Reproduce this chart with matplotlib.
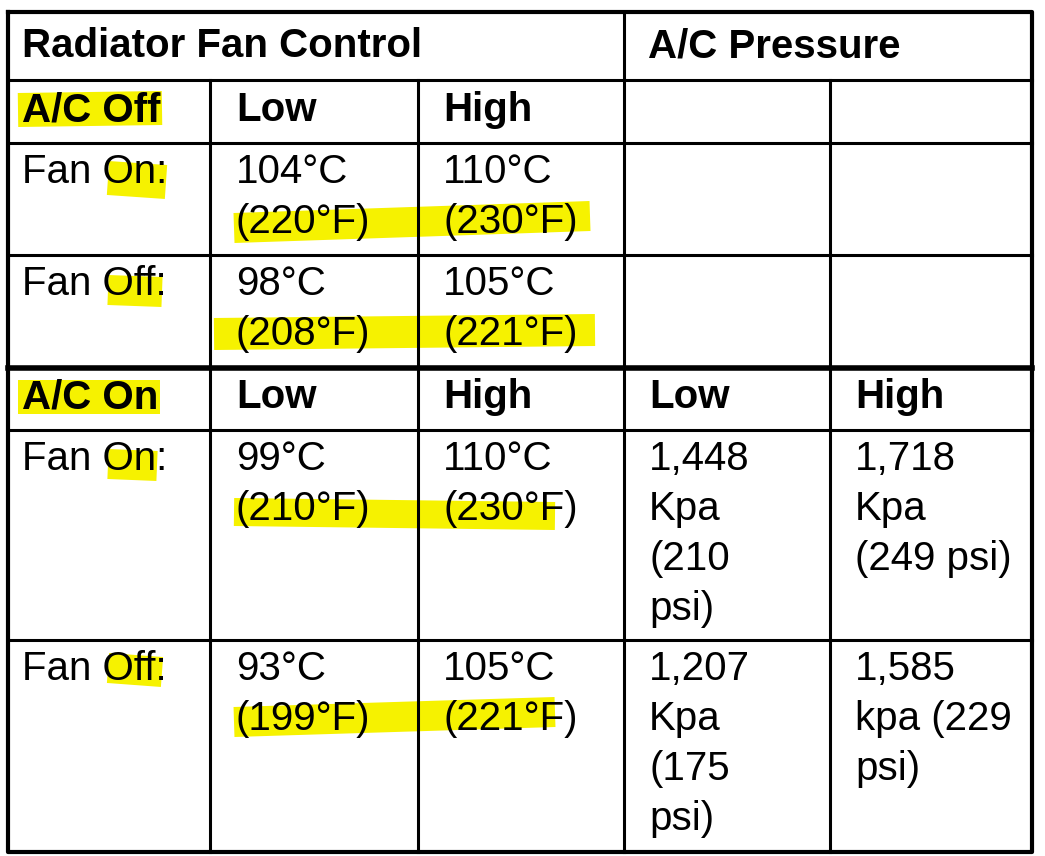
import matplotlib.pyplot as plt

plt.rcParams['font.family'] = ['Liberation Sans', 'DejaVu Sans']

# table content
header_left = 'Radiator Fan Control'
header_right = 'A/C Pressure'
section_labels = ['A/C Off', 'A/C On']
col_heads_off = ['Low', 'High', '', '']
col_heads_on = ['Low', 'High', 'Low', 'High']
row_labels = ['Fan On:', 'Fan Off:', 'Fan On:', 'Fan Off:']
temp_low = [['104°C', '(220°F)'], ['98°C', '(208°F)'], ['99°C', '(210°F)'], ['93°C', '(199°F)']]
temp_high = [['110°C', '(230°F)'], ['105°C', '(221°F)'], ['110°C', '(230°F)'], ['105°C', '(221°F)']]
press_low = [[], [], ['1,448', 'Kpa', '(210', 'psi)'], ['1,207', 'Kpa', '(175', 'psi)']]
press_high = [[], [], ['1,718', 'Kpa', '(249 psi)'], ['1,585', 'kpa (229', 'psi)']]

fig = plt.figure(figsize=(10.45, 8.56), dpi=100)
ax = fig.add_axes([0, 0, 1, 1])
ax.set_xlim(0, 1045)
ax.set_ylim(856, 0)
ax.axis('off')

yellow = '#f6f200'
# highlight strokes (behind text)
strokes = [
    ([18, 162], [110, 108], 34),
    ([108, 166], [178, 182], 34),
    ([234, 590], [228, 216], 30),
    ([108, 162], [290, 292], 30),
    ([214, 595], [334, 330], 32),
    ([18, 160], [397, 397], 34),
    ([108, 157], [464, 466], 30),
    ([234, 555], [512, 516], 28),
    ([108, 162], [668, 672], 30),
    ([234, 555], [722, 712], 30),
]
for xs, ys, w in strokes:
    ax.plot(xs, ys, color=yellow, lw=w * 0.72, solid_capstyle='butt', zorder=1)

# grid lines
xs = [8, 210, 418, 624, 830, 1032]
lw = 2.2
ax.plot([8, 1032, 1032, 8, 8], [12, 12, 852, 852, 12], color='black', lw=3, zorder=2)
for y in [80, 143, 255, 430, 640]:
    ax.plot([8, 1032], [y, y], color='black', lw=lw, zorder=2)
ax.plot([8, 1032], [368, 368], color='black', lw=4, zorder=2)
ax.plot([624, 624], [12, 852], color='black', lw=lw, zorder=2)
for x in [210, 418, 830]:
    ax.plot([x, x], [80, 852], color='black', lw=lw, zorder=2)

fs = 29
ax.text(22, 46, header_left, fontsize=fs, weight='bold', va='center', zorder=3)
ax.text(648, 46, header_right, fontsize=fs, weight='bold', va='center', zorder=3)

tx = [22, 236, 443, 649, 855]
head_y = [110, 397]
for i, (lab, heads) in enumerate(zip(section_labels, [col_heads_off, col_heads_on])):
    ax.text(tx[0], head_y[i], lab, fontsize=fs, weight='bold', va='center', zorder=3)
    for j, h in enumerate(heads):
        ax.text(tx[j + 1], head_y[i], h, fontsize=fs, weight='bold', va='center', zorder=3)

row_y = [172, 284, 459, 669]
step = 50
for r in range(4):
    ax.text(tx[0], row_y[r], row_labels[r], fontsize=fs, va='center', zorder=3)
    for c, col in enumerate([temp_low, temp_high, press_low, press_high]):
        for k, line in enumerate(col[r]):
            ax.text(tx[c + 1], row_y[r] + k * step, line, fontsize=fs, va='center', zorder=3)

fig.savefig('out.png', dpi=100, facecolor='white')
